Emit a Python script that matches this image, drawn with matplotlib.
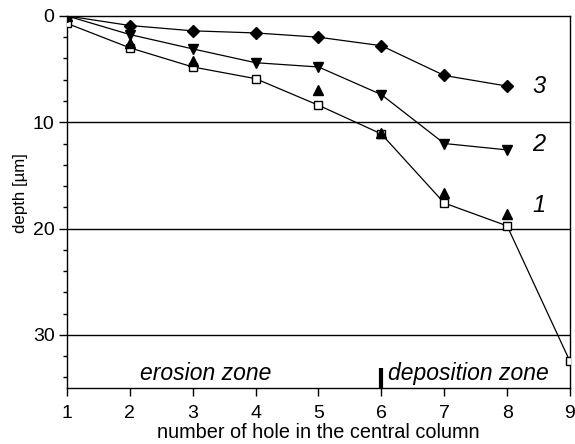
import matplotlib
matplotlib.use("Agg")
import matplotlib.pyplot as plt
import numpy as np

plt.rcParams['font.family'] = ['Liberation Sans', 'DejaVu Sans']

holes = [1, 2, 3, 4, 5, 6, 7, 8, 9]
open_squares = [0.7, 3.0, 4.8, 5.9, 8.4, 11.1, 17.6, 19.75, 32.5]
hole_short = [1, 2, 3, 4, 5, 6, 7, 8]
series1_up = [0.0, 2.5, 4.2, np.nan, 7.0, 11.0, 16.7, 18.6]
series2_down = [0.0, 1.75, 3.1, 4.4, 4.8, 7.4, 12.0, 12.6]
series3_diamond = [0.0, 0.9, 1.4, 1.6, 2.0, 2.8, 5.6, 6.6]
curve_labels = ["1", "2", "3"]

fig = plt.figure(figsize=(5.75, 4.44), dpi=100)
ax = fig.add_axes([0.1165, 0.1261, 0.8748, 0.838])

for yv in [10, 20, 30]:
    ax.axhline(yv, color='black', lw=1.0, zorder=1)

ax.plot(holes, open_squares, '-', color='black', lw=0.9, marker='s', ms=6,
        mfc='white', mec='black', mew=1.0, zorder=3)
ax.plot(hole_short, series1_up, linestyle='none', marker='^', ms=7.5,
        color='black', zorder=4)
ax.plot(hole_short, series2_down, '-', color='black', lw=0.9, marker='v', ms=7.5, zorder=4)
ax.plot(hole_short, series3_diamond, '-', color='black', lw=0.9, marker='D', ms=6.5, zorder=5)

ax.text(8.5, 17.8, curve_labels[0], fontsize=17, style='italic', ha='center', va='center')
ax.text(8.5, 12.1, curve_labels[1], fontsize=17, style='italic', ha='center', va='center')
ax.text(8.5, 6.6, curve_labels[2], fontsize=17, style='italic', ha='center', va='center')

ax.text(3.2, 33.6, "erosion zone", fontsize=16.5, style='italic', ha='center', va='center')
ax.text(6.1, 33.6, "deposition zone", fontsize=16.5, style='italic', ha='left', va='center')
ax.plot([6, 6], [33.1, 35], color='black', lw=3, solid_capstyle='butt', zorder=6)

ax.set_xlim(1, 9)
ax.set_ylim(35, 0)
ax.set_xticks(holes)
ax.set_yticks([0, 10, 20, 30])
ax.set_yticks([2, 4, 6, 8, 12, 14, 16, 18, 22, 24, 26, 28, 32, 34], minor=True)
ax.tick_params(axis='both', which='major', labelsize=14, direction='out', length=6, width=1)
ax.tick_params(axis='x', which='major', pad=6)
ax.tick_params(axis='y', which='major', pad=3)
ax.tick_params(axis='y', which='minor', direction='out', length=3, width=1)
for s in ax.spines.values():
    s.set_linewidth(1.0)

ax.set_xlabel("number of hole in the central column", fontsize=14.3)
ax.set_ylabel("depth [µm]", fontsize=12.2)
ax.xaxis.set_label_coords(0.5, -0.093)
ax.yaxis.set_label_coords(-0.078, 0.523)

fig.savefig("out.png", dpi=100)
